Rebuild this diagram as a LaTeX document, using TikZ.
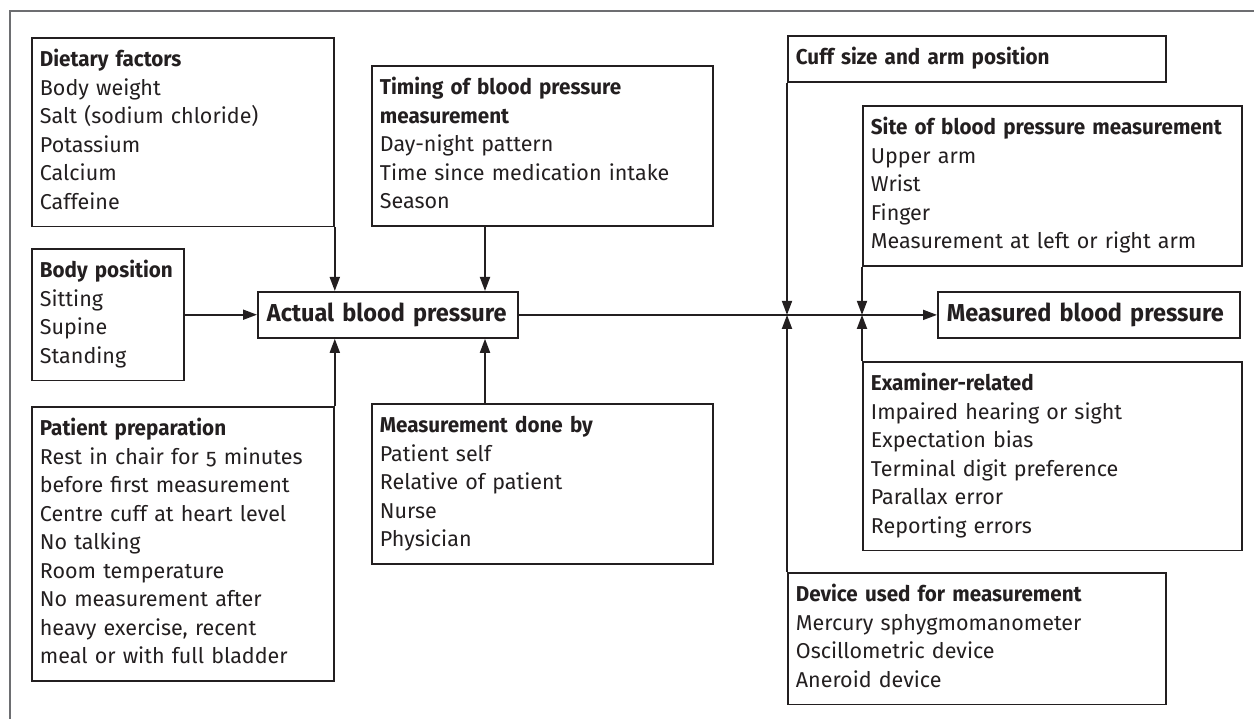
\documentclass[tikz,border=0pt]{standalone}
\usepackage{fontspec}
\setmainfont{Fira Sans}[Numbers=OldStyle,BoldFeatures={FakeStretch=0.96}]
\usepackage{tikz}
\usetikzlibrary{arrows.meta}
\definecolor{ink}{HTML}{231F20}
\definecolor{framegray}{HTML}{6D6E71}
\hyphenpenalty=10000
\tikzset{factor/.style={draw=ink,line width=1.8pt,anchor=north west,align=left,
    inner xsep=8pt,inner ysep=8.8pt,text=ink,font=\fontsize{21.5}{28.5}\selectfont,
    execute at begin node=\strut,execute at end node=\strut}}
\tikzset{bpbox/.style={draw=ink,line width=1.8pt,anchor=north west,align=left,
    minimum height=46pt,inner xsep=9pt,text=ink,font=\fontsize{24.5}{29}\selectfont\bfseries}}
\tikzset{infl/.style={draw=ink,line width=1.8pt,-{Triangle[length=14pt,width=10pt]}}}

\begin{document}
\begin{tikzpicture}[x=1pt,y=-1pt]
\useasboundingbox (0,0) rectangle (1254,719);
\draw[framegray,line width=1.3pt] (10,719) -- (10,11) -- (1254,11);
% left part: factors of the actual pressure
\node (diet) [factor,text width=286pt] at (31,37) {\textbf{Dietary factors}\\Body weight\\Salt (sodium chloride)\\Potassium\\Calcium\\Caffeine};
\node (timing) [factor,text width=325pt] at (371,65) {\textbf{Timing of blood pressure}\\\textbf{measurement}\\Day-night pattern\\Time since medication intake\\Season};
\node (body) [factor,text width=136pt] at (31,248) {\textbf{Body position}\\Sitting\\Supine\\Standing};
\node (actual) [bpbox,text width=242pt] at (257,291) {Actual blood pressure};
\node (prep) [factor,text width=286pt] at (31,406) {\textbf{Patient preparation}\\Rest in chair for 5 minutes\\before first measurement\\Centre cuff at heart level\\No talking\\Room temperature\\No measurement after\\heavy exercise, recent\\meal or with full bladder};
\node (doneby) [factor,text width=325pt] at (371,403) {\textbf{Measurement done by}\\Patient self\\Relative of patient\\Nurse\\Physician};
% right part: factors of the measured pressure
\node (cuff) [factor,text width=362pt] at (787,35) {\textbf{Cuff size and arm position}};
\node (site) [factor,text width=363pt] at (862,105) {\textbf{Site of blood pressure measurement}\\Upper arm\\Wrist\\Finger\\Measurement at left or right arm};
\node (measured) [bpbox,text width=284pt] at (937,291) {Measured blood pressure};
\node (exam) [factor,text width=363pt] at (862,361) {\textbf{Examiner-related}\\Impaired hearing or sight\\Expectation bias\\Terminal digit preference\\Parallax error\\Reporting errors};
\node (device) [factor,text width=362pt] at (787,572) {\textbf{Device used for measurement}\\Mercury sphygmomanometer\\Oscillometric device\\Aneroid device};
%
\draw[infl] (diet.south east) -- (diet.south east |- actual.north);
\draw[infl] ([xshift=114pt]timing.south west) -- ([xshift=114pt]timing.south west |- actual.north);
\draw[infl] (body.east) -- (body.east -| actual.west);
\draw[infl] (prep.north east) -- (prep.north east |- actual.south);
\draw[infl] ([xshift=114pt]doneby.north west) -- ([xshift=114pt]doneby.north west |- actual.south);
%
\draw[infl] (actual.east) -- (actual.east -| measured.west);
\draw[infl] (cuff.south west) -- (cuff.south west |- actual.east);
\draw[infl] (device.north west) -- (device.north west |- actual.east);
\draw[infl] (site.south west) -- (site.south west |- actual.east);
\draw[infl] (exam.north west) -- (exam.north west |- actual.east);
\end{tikzpicture}
\end{document}
